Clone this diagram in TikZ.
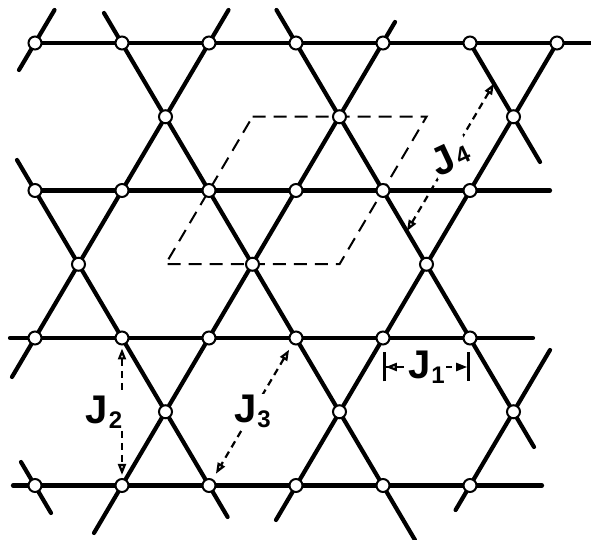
\documentclass[tikz,border=0pt]{standalone}
\usepackage{fontspec}
\setmainfont{Liberation Sans}
\usetikzlibrary{calc,arrows.meta,backgrounds}
\newcommand{\Jlab}[1]{J\kern1pt\raisebox{-5pt}{\fontsize{24}{24}\selectfont #1}}
\tikzset{
  bond/.style={line width=4.2pt,line cap=round},
  site/.style={circle,draw=black,line width=2pt,fill=white,minimum size=13pt,inner sep=0pt},
  cell/.style={dash pattern=on 13pt off 8pt,line width=2pt},
  jarr/.style={dash pattern=on 7pt off 5pt,line width=2.2pt,
    {Triangle[open,length=11pt,width=8pt]}-{Triangle[open,length=11pt,width=8pt]}},
  jdim/.style={dash pattern=on 7pt off 5pt,line width=2.2pt,
    {Bar[width=29pt,line width=2.8pt]Triangle[open,length=11pt,width=8pt]}-{Triangle[open,length=11pt,width=8pt]Bar[width=29pt,line width=2.8pt]}},
  jlab/.style={fill=white,inner sep=1pt,font=\fontsize{40}{40}\selectfont\bfseries},
}

\begin{document}
\begin{tikzpicture}[x=1pt,y=1pt]
  \useasboundingbox (0,0) rectangle (591,540);
  % sites on the horizontal lines
  \foreach \k in {0,...,6} \node[site] (s1\k) at (35+87*\k,497) {};
  \foreach \r/\y in {2/349.5,3/202,4/54.5}
    \foreach \k in {0,...,5} \node[site] (s\r\k) at (35+87*\k,\y) {};
  % sites between the lines
  \foreach \i in {1,2,3} {
    \node[site] (m1\i) at (-8.5+174*\i,423.25) {};
    \node[site] (m2\i) at (-95.5+174*\i,275.75) {};
    \node[site] (m3\i) at (-8.5+174*\i,128.25) {};
  }
  \begin{scope}[on background layer]
    % horizontal lines
    \draw[bond] (35,497) -- (591,497) (35,349.5) -- (550,349.5)
      (10,202) -- (533,202) (13,54.5) -- (542,54.5);
    % lines running down to the right
    \draw[bond] (21,78) -- (51,27) (17,380) -- (227.6,23) (104,527) -- (415,0)
      (276.5,530) -- (534,93) (470,497) -- (540,378);
    % lines running down to the left
    \draw[bond] (54.5,530) -- (19,470) (228.5,530) -- (12,163) (395,518) -- (94,7)
      (557,497) -- (276,20) (550,190) -- (455.6,30);
    % unit cell
    \coordinate (c1) at ($(m11)!.5!(m12)$);
    \coordinate (c2) at ($(m12)!.5!(m13)$);
    \coordinate (c3) at ($(m22)!.5!(m23)$);
    \coordinate (c4) at ($(m21)!.5!(m22)$);
    \draw[cell] (c1) -- (c2) -- (c3) -- (c4) -- cycle;
  \end{scope}
  % exchange paths
  \draw[jdim] ([yshift=-29pt]s34.center) -- node[jlab]{\Jlab{1}} ([yshift=-29pt]s35.center);
  \draw[jarr] ([yshift=-3pt]s31.south) -- node[jlab,xshift=-18pt]{\Jlab{2}} ([yshift=3pt]s41.north);
  \draw[jarr,shorten <=6pt,shorten >=6pt] (s33) -- node[jlab]{\Jlab{3}} (s42);
  \coordinate (j4a) at ($(s15)!.55!(m13)$);
  \coordinate (j4b) at ($(s24)!.55!(m23)$);
  \draw[jarr] (j4a) -- node[jlab,rotate=25]{J\kern3pt\raisebox{2pt}{\fontsize{24}{24}\selectfont 4}} (j4b);
\end{tikzpicture}
\end{document}
